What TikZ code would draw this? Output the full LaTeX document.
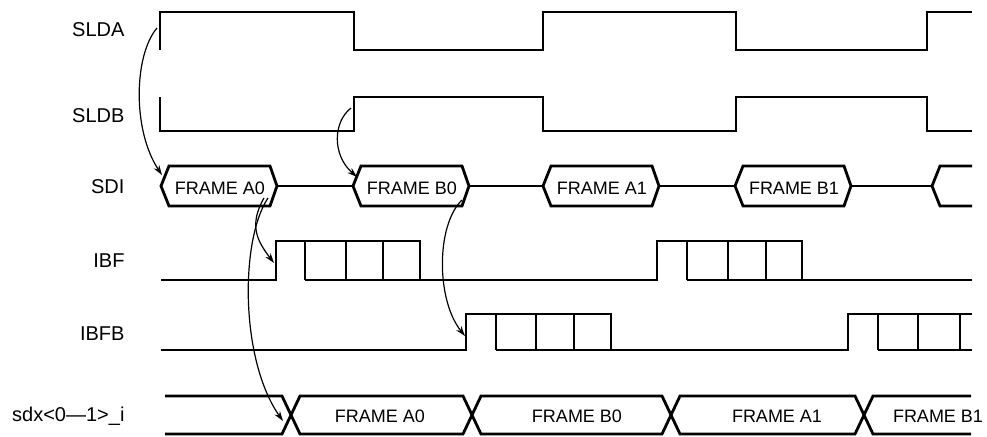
\documentclass[tikz,border=0pt]{standalone}
\usepackage{fontspec}
\setmainfont{Liberation Sans}
\usetikzlibrary{arrows.meta}

\tikzset{
  wave/.style={line width=2.8pt, line join=miter},
  sig/.style={anchor=base east, font=\fontsize{20}{24}\selectfont},
  frm/.style={anchor=base, font=\fontsize{18}{22}\selectfont},
  cause/.style={line width=1.2pt, -{Stealth[length=10pt,width=6.5pt]}}
}

\begin{document}
\begin{tikzpicture}[x=1pt,y=-1pt]
  \useasboundingbox (0,0) rectangle (987,436);

  % Define signal names
  \node[sig] (slda) at (128,37) {SLDA};
  \node[sig] (sldb) at (128,122) {SLDB};
  \node[sig] (sdi) at (128,193) {SDI};
  \node[sig] (ibf) at (128,267) {IBF};
  \node[sig] (ibfb) at (128,340) {IBFB};
  \node[sig] (sdx) at (128,421) {sdx<0—1>\_i};

  % SLDA and SLDB
  \draw[wave] (160,50) -- (160,12) -- (354,12) -- (354,50) -- (543,50) -- (543,12)
    -- (736,12) -- (736,50) -- (927,50) -- (927,12) -- (972,12);
  \draw[wave] (160,97) -- (160,131) -- (354,131) -- (354,97) -- (543,97) -- (543,131)
    -- (736,131) -- (736,97) -- (927,97) -- (927,131) -- (972,131);

  % SDI frames
  \foreach \xa/\lab in {161/A0, 353/B0, 543/A1, 735/B1} {
    \draw[wave] (\xa,186) -- (\xa+8,166) -- (\xa+109,166) -- (\xa+116,186)
      -- (\xa+109,206) -- (\xa+8,206) -- cycle;
    \node[frm] (sdi\lab) at (\xa+59,194) {FRAME \lab};
  }
  \draw[wave] (277,186) -- (353,186);
  \draw[wave] (469,186) -- (543,186);
  \draw[wave] (659,186) -- (735,186);
  \draw[wave] (851,186) -- (932,186);
  \draw[wave] (972,166) -- (940,166) -- (932,186) -- (940,206) -- (972,206);

  % IBF
  \draw[wave] (161,280) -- (276,280) -- (276,241) -- (420,241) -- (420,280);
  \draw[wave] (305,280) -- (657,280) -- (657,241) -- (802,241) -- (802,280);
  \draw[wave] (687,280) -- (972,280);
  \foreach \xb in {305,346,383,687,728,766}
    \draw[wave] (\xb,241) -- (\xb,280);

  % IBFB
  \draw[wave] (161,350) -- (466,350) -- (466,314) -- (611,314) -- (611,350);
  \draw[wave] (496,350) -- (848,350) -- (848,314) -- (972,314);
  \draw[wave] (878,350) -- (972,350);
  \foreach \xb in {496,536,574,878,918,960}
    \draw[wave] (\xb,314) -- (\xb,350);

  % sdx bus
  \draw[wave] (165,396) -- (282,396) -- (300,434) -- (463,434) -- (481,396) -- (662,396)
    -- (680,434) -- (855,434) -- (873,396) -- (971,396);
  \draw[wave] (165,434) -- (282,434) -- (300,396) -- (463,396) -- (481,434) -- (662,434)
    -- (680,396) -- (855,396) -- (873,434) -- (971,434);
  \node[frm] (sdxA0) at (380,422) {FRAME A0};
  \node[frm] (sdxB0) at (577,422) {FRAME B0};
  \node[frm] (sdxA1) at (777,422) {FRAME A1};
  \node[frm] (sdxB1) at (938,422) {FRAME B1};

  % Points for the arrows
  \coordinate (sldaRise) at (157,28);
  \coordinate (sldbRise) at (351,108);
  \coordinate (a0Start) at (162,175);
  \coordinate (b0Start) at (357,177);
  \coordinate (a0EndI) at (264,198);
  \coordinate (a0EndO) at (268,198);
  \coordinate (b0End) at (462,200);
  \coordinate (ibfRise) at (274,263);
  \coordinate (ibfbRise) at (465,336);
  \coordinate (sdxCross) at (283,421);

  % Draw arrows
  \draw[cause] (sldaRise) .. controls (134,55) and (132,130) .. (a0Start);
  \draw[cause] (sldbRise) .. controls (333,122) and (332,155) .. (b0Start);
  \draw[cause] (a0EndI) .. controls (248,226) and (258,242) .. (ibfRise);
  \draw[cause] (a0EndO) .. controls (240,240) and (240,360) .. (sdxCross);
  \draw[cause] (b0End) .. controls (436,225) and (436,300) .. (ibfbRise);
\end{tikzpicture}
\end{document}
